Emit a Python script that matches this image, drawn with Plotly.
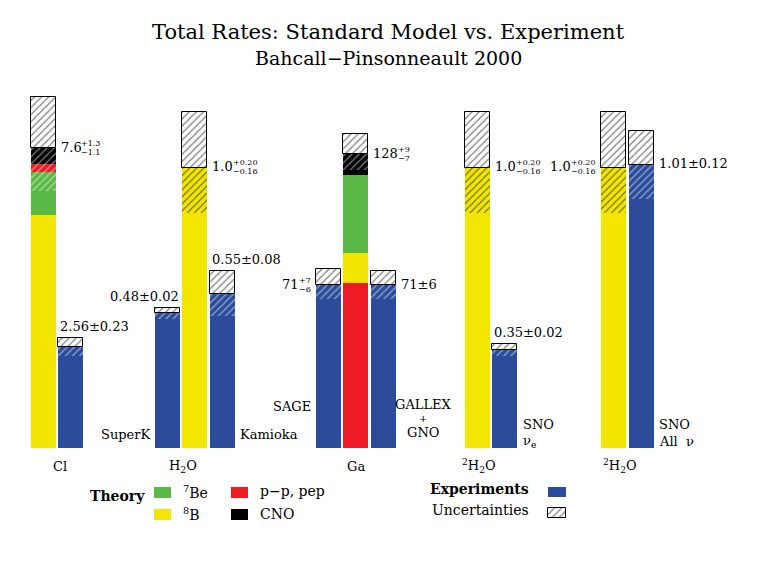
import plotly.graph_objects as go

# ---------------- data ----------------
theory_names = ["Cl", "H2O", "Ga", "2H2O (nu_e)", "2H2O (all nu)"]
theory_pp_pep = [0.2, 0.0, 72.0, 0.0, 0.0]
theory_be7 = [1.1, 0.0, 34.0, 0.0, 0.0]
theory_b8 = [5.9, 1.0, 13.0, 1.0, 1.0]
theory_cno = [0.4, 0.0, 9.0, 0.0, 0.0]
theory_total = [7.6, 1.0, 128.0, 1.0, 1.0]
theory_err_hi = [1.3, 0.20, 9.0, 0.20, 0.20]
theory_err_lo = [1.1, 0.16, 7.0, 0.16, 0.16]
theory_main = ["7.6", "1.0", "128", "1.0", "1.0"]
theory_sup = ["+1.3", "+0.20", "+9", "+0.20", "+0.20"]
theory_sub = ["−1.1", "−0.16", "−7", "−0.16", "−0.16"]

exp_names = ["Homestake", "SuperK", "Kamioka", "SAGE", "GALLEX+GNO", "SNO nu_e", "SNO all nu"]
exp_value = [2.56, 0.48, 0.55, 71.0, 71.0, 0.35, 1.01]
exp_err_hi = [0.23, 0.02, 0.08, 7.0, 6.0, 0.02, 0.12]
exp_err_lo = [0.23, 0.02, 0.08, 6.0, 6.0, 0.02, 0.12]
exp_main = ["2.56±0.23", "0.48±0.02", "0.55±0.08", "71", "71±6", "0.35±0.02", "1.01±0.12"]
exp_sup = ["", "", "", "+7", "", "", ""]
exp_sub = ["", "", "", "−6", "", "", ""]

group_labels = ["Cl", "H<sub>2</sub>O", "Ga", "<sup>2</sup>H<sub>2</sub>O", "<sup>2</sup>H<sub>2</sub>O"]
detector_labels = ["SuperK", "Kamioka", "SAGE", "GALLEX", "+", "GNO", "SNO", "ν<sub>e</sub>", "SNO", "All  ν"]
theory_legend = ["<sup>7</sup>Be", "<sup>8</sup>B", "p−p, pep", "CNO"]
exp_legend = ["Experiments", "Uncertainties"]
title_text = "Total Rates: Standard Model vs. Experiment"
subtitle_text = "Bahcall−Pinsonneault 2000"

# ---------------- styles / layout ----------------
W, H = 768, 574
OFF = 8                      # page body margin of the html page
PLOT_TOP, PLOT_BOT = 88, 448
PLOT_H = PLOT_BOT - PLOT_TOP
BAR_W = 25
C_YEL, C_GRN, C_RED, C_BLK, C_BLU = "#f2e600", "#5ab946", "#ed1c24", "#000000", "#2b4c9b"
SERIF = "DejaVu Serif"

# pixel scale of each detector's axis (pixels per unit)
axis_px_per_unit = {"y": 39.47, "y2": 280.3, "y3": 2.295}
theory_axis = ["y", "y2", "y3", "y2", "y2"]
exp_axis = ["y", "y2", "y2", "y3", "y3", "y2", "y2"]
theory_x = [43.2, 194.8, 355.8, 477.5, 613.5]
exp_x = [70.8, 167.5, 222.5, 328.5, 383.2, 504.8, 641.2]
stack_order = [["b8", "be7", "pp", "cno"], ["b8"], ["pp", "b8", "be7", "cno"], ["b8"], ["b8"]]
comp_vals = {"pp": theory_pp_pep, "be7": theory_be7, "b8": theory_b8, "cno": theory_cno}
comp_col = {"pp": C_RED, "be7": C_GRN, "b8": C_YEL, "cno": C_BLK}
theory_lo_hatch = ["white", "black", "white", "black", "black"]
theory_side = ["right", "right", "right", "right", "left"]
exp_side = ["above_left", "above_right", "above_left", "left", "right", "above_left", "right"]

fig = go.Figure()
TRANSP = "rgba(0,0,0,0)"


def bar(x, base, h, axis, color, pattern=None, line_w=0, line_c="black", width=BAR_W):
    m = dict(color=color, line=dict(width=line_w, color=line_c))
    if pattern is not None:
        m["pattern"] = pattern
    fig.add_trace(go.Bar(x=[x], y=[h], base=[base], width=[width], yaxis=axis, xaxis="x",
                         marker=m, hoverinfo="skip", showlegend=False))


def hatch(fg, bg):
    return dict(shape="/", fgcolor=fg, bgcolor=bg, size=5, solidity=0.25, fillmode="overlay")


# theory stacks
for i in range(len(theory_total)):
    ax = theory_axis[i]
    cum = 0.0
    for c in stack_order[i]:
        v = comp_vals[c][i]
        if v > 0:
            bar(theory_x[i], cum, v, ax, comp_col[c])
            cum += v
    t = theory_total[i]
    bar(theory_x[i], t - theory_err_lo[i], theory_err_lo[i], ax, TRANSP,
        hatch(theory_lo_hatch[i], TRANSP))
    bar(theory_x[i], t, theory_err_hi[i], ax, "white", hatch("black", "white"), line_w=1)

# experiments
for i in range(len(exp_value)):
    ax = exp_axis[i]
    v = exp_value[i]
    bar(exp_x[i], 0, v, ax, C_BLU)
    bar(exp_x[i], v - exp_err_lo[i], exp_err_lo[i], ax, TRANSP, hatch("white", TRANSP))
    bar(exp_x[i], v, exp_err_hi[i], ax, "white", hatch("black", "white"), line_w=1)

annotations = []
F_MAIN, F_SMALL = 13, 8
CW = {".": 0.318, "+": 0.838, "−": 0.838, "±": 0.838}


def tw(s, size):
    return sum(CW.get(ch, 0.636) for ch in s) * size


def ann(x, y, text, xref="x", yref="y4", xanchor="center", yanchor="middle", size=F_MAIN,
        xshift=0, yshift=0, bold=False, family=SERIF):
    annotations.append(dict(x=x, y=y, xref=xref, yref=yref, text=text, showarrow=False,
                            xanchor=xanchor, yanchor=yanchor, xshift=xshift, yshift=yshift,
                            font=dict(family=family, size=size, color="black",
                                      weight="bold" if bold else "normal")))


def value_label(xc, y, ax, side, main, sup, sub, top=None):
    wm = tw(main, F_MAIN)
    ws = max(tw(sup, F_SMALL), tw(sub, F_SMALL)) if sup else 0
    if side == "right":
        x0 = xc + BAR_W / 2 + 3
        ann(x0, y, main, yref=ax, xanchor="left", yshift=1)
        if sup:
            ann(x0, y, sup, yref=ax, xanchor="left", xshift=wm, yshift=5, size=F_SMALL)
            ann(x0, y, sub, yref=ax, xanchor="left", xshift=wm, yshift=-4, size=F_SMALL)
    elif side == "left":
        x1 = xc - BAR_W / 2 - 3
        ann(x1, y, main, yref=ax, xanchor="right", xshift=-ws, yshift=1)
        if sup:
            ann(x1, y, sup, yref=ax, xanchor="right", yshift=5, size=F_SMALL)
            ann(x1, y, sub, yref=ax, xanchor="right", yshift=-4, size=F_SMALL)
    else:
        if side == "above_left":
            ann(xc - BAR_W / 2, top, main, yref=ax, xanchor="left", yanchor="bottom", yshift=2)
        else:
            ann(xc + BAR_W / 2 + 1, top, main, yref=ax, xanchor="right", yanchor="bottom", yshift=2)


for i in range(len(theory_total)):
    value_label(theory_x[i], theory_total[i], theory_axis[i], theory_side[i],
                theory_main[i], theory_sup[i], theory_sub[i])
for i in range(len(exp_value)):
    value_label(exp_x[i], exp_value[i], exp_axis[i], exp_side[i], exp_main[i], exp_sup[i],
                exp_sub[i], top=exp_value[i] + exp_err_hi[i])

# group labels
for txt, gx in zip(group_labels, [60, 183, 355.5, 479, 620]):
    ann(gx, 466, txt)

# detector labels
det_pos = [(153, 434, "right", 13), (238, 434, "left", 13), (313, 406, "right", 13),
           (423, 404, "center", 13), (423, 418, "center", 10), (423, 432, "center", 13),
           (521, 424, "left", 13), (521, 441, "left", 13),
           (657, 424, "left", 13), (657, 441, "left", 13)]
for txt, (dx, dy, xa, fs) in zip(detector_labels, det_pos):
    ann(dx, dy, txt, xanchor=xa, size=fs)

# titles
ann(388, 32, title_text, size=21)
ann(388, 58, subtitle_text, size=19)

# legend
ann(88, 496, "Theory", xanchor="left", size=14, bold=True)
leg_sw = [(162.5, 487, C_GRN), (162.5, 508.5, C_YEL), (239.5, 487, C_RED), (239.5, 508.5, C_BLK)]
for (sx, sy, sc) in leg_sw:
    fig.add_trace(go.Bar(x=[sx], y=[11], base=[sy], width=[17], xaxis="x", yaxis="y4",
                         marker=dict(color=sc, line=dict(width=0)), hoverinfo="skip", showlegend=False))
for txt, (lx, ly) in zip(theory_legend, [(181, 492), (181, 514), (258, 491), (258, 514)]):
    ann(lx, ly, txt, xanchor="left", size=14)
ann(531, 489, exp_legend[0], xanchor="right", size=14, bold=True)
ann(531, 510, exp_legend[1], xanchor="right", size=14)
fig.add_trace(go.Bar(x=[557], y=[10.5], base=[486.5], width=[18], xaxis="x", yaxis="y4",
                     marker=dict(color=C_BLU, line=dict(width=0)), hoverinfo="skip", showlegend=False))
fig.add_trace(go.Bar(x=[557], y=[10.5], base=[507.5], width=[18], xaxis="x", yaxis="y4",
                     marker=dict(color="white", line=dict(width=1, color="black"),
                                 pattern=hatch("black", "white")),
                     hoverinfo="skip", showlegend=False))

# page pixel -> axis mapping (the figure sits OFF px inside the page)
dom = [(H - (PLOT_BOT - OFF)) / H, (H - (PLOT_TOP - OFF)) / H]
hidden = dict(visible=False, showgrid=False, zeroline=False, fixedrange=True)
fig.update_layout(
    width=W, height=H, margin=dict(l=0, r=0, t=0, b=0),
    paper_bgcolor="white", plot_bgcolor="rgba(0,0,0,0)",
    barmode="overlay", bargap=0,
    xaxis=dict(range=[OFF, W + OFF], domain=[0, 1], anchor="y", **hidden),
    yaxis=dict(range=[0, PLOT_H / axis_px_per_unit["y"]], domain=dom, anchor="x", **hidden),
    yaxis2=dict(range=[0, PLOT_H / axis_px_per_unit["y2"]], overlaying="y", anchor="x", **hidden),
    yaxis3=dict(range=[0, PLOT_H / axis_px_per_unit["y3"]], overlaying="y", anchor="x", **hidden),
    yaxis4=dict(range=[H + OFF, OFF], domain=[0, 1], anchor="x", **hidden),
    annotations=annotations,
    showlegend=False,
)

fig.write_html("out.html")
